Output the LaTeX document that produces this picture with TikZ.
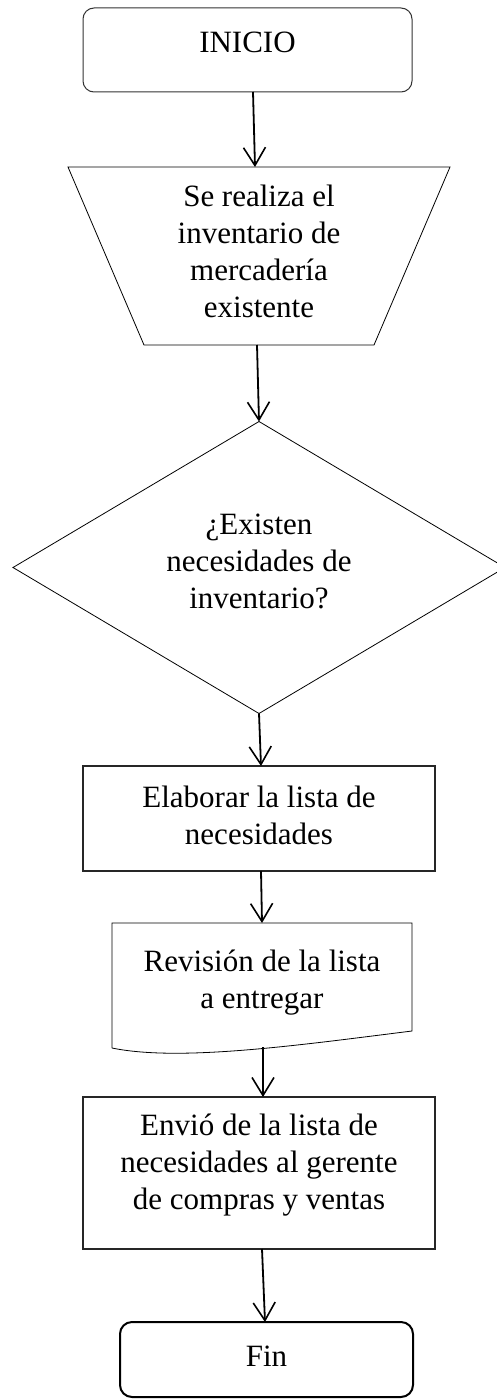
\documentclass[tikz,border=0pt]{standalone}
\usepackage{fontspec}
\setmainfont{Liberation Serif}
\usetikzlibrary{arrows.meta,shapes.geometric,calc}
\begin{document}
\begin{tikzpicture}[x=1pt,y=-1pt,
  base/.style={inner sep=0pt, outer sep=0pt},
  lbl/.style={font=\fontsize{31}{37}\selectfont, align=center, inner sep=0pt, text=black},
  thinline/.style={draw=black, line width=0.8pt},
  procbox/.style={base, draw=black!85, line width=1.4pt, rectangle},
  termbox/.style={base, draw=black!80, line width=1pt, rectangle, rounded corners=11pt},
  endbox/.style={base, draw=black, line width=2pt, rectangle, rounded corners=12pt},
  flow/.style={line width=1.8pt, -{Straight Barb[length=18pt,width=22pt,line width=1.6pt]}}]
\useasboundingbox (0,0) rectangle (496,1399);
\fill[white] (0,0) rectangle (496,1399);

% INICIO
\node[termbox, minimum width=329pt, minimum height=84pt,
  label={[lbl,yshift=8pt]center:INICIO}] (n1) at (247.5,50) {};

% trapezoid (manual input)
\node[base, minimum width=382pt, minimum height=178pt,
  label={[lbl,yshift=5pt]center:{Se realiza el\\inventario de\\mercadería\\existente}}] (n2) at (259,256) {};
\draw[thinline] (n2.north west) -- (n2.north east) -- ($(n2.south east)+(-76,0)$)
  -- ($(n2.south west)+(76,0)$) -- cycle;

% decision
\node[base, draw=black, line width=0.8pt, diamond, minimum width=492pt, minimum height=292pt,
  label={[lbl,yshift=6pt]center:{¿Existen\\necesidades de\\inventario?}}] (n3) at (259,567.5) {};

% process
\node[procbox, minimum width=352pt, minimum height=105pt,
  label={[lbl,yshift=3pt]center:{Elaborar la lista de\\necesidades}}] (n4) at (259,818.5) {};

% document
\node[base, minimum width=300pt, minimum height=125pt,
  label={[lbl,yshift=3pt]center:{Revisión de la lista\\a entregar}}] (n5) at (262,985.5) {};
\draw[thinline] (n5.south west) -- (n5.north west) -- (n5.north east) -- ($(n5.south east)+(0,-17)$)
  .. controls ($(n5.south)+(38,-3)$) and ($(n5.south west)+(68,14)$) .. (n5.south west);

% process 2
\node[procbox, minimum width=352pt, minimum height=152pt,
  label={[lbl,yshift=8pt]center:{Envió de la lista de\\necesidades al gerente\\de compras y ventas}}] (n6) at (259,1173) {};

% Fin
\node[endbox, minimum width=293pt, minimum height=75pt,
  label={[lbl,yshift=3.5pt]center:Fin}] (n7) at (266.5,1359.5) {};

% connectors
\draw[flow] ($(n1.south)+(5.5,0)$) -- ($(n2.north)+(-4,0)$);
\draw[flow] ($(n2.south)+(-2,0)$) -- (n3.north);
\draw[flow] (n3.south) -- ($(n4.north)+(2,0)$);
\draw[flow] ($(n4.south)+(2,0)$) -- (n5.north);
\draw[flow] ($(n5.south)+(1,-1)$) -- ($(n6.north)+(4,0)$);
\draw[flow] ($(n6.south)+(3,0)$) -- ($(n7.north)+(-1.5,0)$);
\end{tikzpicture}
\end{document}
